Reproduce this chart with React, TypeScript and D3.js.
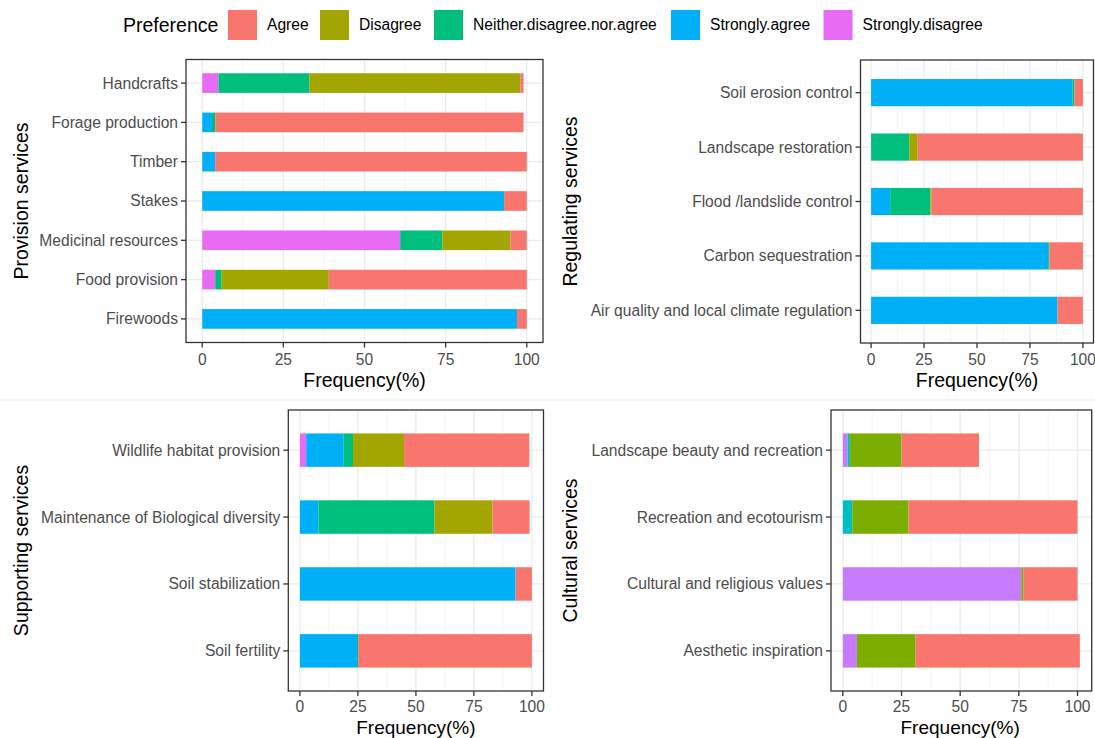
import React from "react";
import * as d3 from "d3";

// Response levels (factor order) and the shared five-level palette
const levels = ["Agree", "Disagree", "Neither.disagree.nor.agree", "Strongly.agree", "Strongly.disagree"];
const levelColors = ["#F8766D", "#A3A500", "#00BF7D", "#00B0F6", "#E76BF3"];
// Cultural services panel has only four levels, so it uses the four-level hue palette
const culturalLevels = ["Agree", "Disagree", "Strongly.agree", "Strongly.disagree"];
const culturalColors = ["#F8766D", "#7CAE00", "#00BFC4", "#C77CFF"];

const xTicks = [0, 25, 50, 75, 100];

// Provision services (listed bottom to top)
const provisionCats = ["Firewoods", "Food provision", "Medicinal resources", "Stakes", "Timber", "Forage production", "Handcrafts"];
const provisionAgree = [3, 61, 5, 7, 96, 95, 1];
const provisionDisagree = [0, 33, 21, 0, 0, 0, 65];
const provisionNeither = [0, 2, 13, 0, 0, 1, 28];
const provisionStronglyAgree = [97, 0, 0, 93, 4, 3, 0];
const provisionStronglyDisagree = [0, 4, 61, 0, 0, 0, 5];

// Regulating services
const regulatingCats = ["Air quality and local climate regulation", "Carbon sequestration", "Flood /landslide control", "Landscape restoration", "Soil erosion control"];
const regulatingAgree = [12, 15.8, 71.4, 78, 4];
const regulatingDisagree = [0, 0, 0.6, 4, 0];
const regulatingNeither = [0, 0.6, 19, 18, 1];
const regulatingStronglyAgree = [88, 83.6, 9, 0, 95];
const regulatingStronglyDisagree = [0, 0, 0, 0, 0];

// Supporting services
const supportingCats = ["Soil fertility", "Soil stabilization", "Maintenance of Biological diversity", "Wildlife habitat provision"];
const supportingAgree = [74.9, 7, 16, 54];
const supportingDisagree = [0, 0, 25, 22];
const supportingNeither = [0.5, 0, 50, 4];
const supportingStronglyAgree = [24.6, 93, 8, 16.2];
const supportingStronglyDisagree = [0, 0, 0, 2.7];

// Cultural services
const culturalCats = ["Aesthetic inspiration", "Cultural and religious values", "Recreation and ecotourism", "Landscape beauty and recreation"];
const culturalAgree = [70, 23, 72, 33];
const culturalDisagree = [25, 1, 24, 22];
const culturalStronglyAgree = [0, 0, 4, 1];
const culturalStronglyDisagree = [6, 76, 0, 2];

type Panel = {
  title: string;
  cats: string[];
  series: number[][];
  colors: string[];
  left: number;
  right: number;
  top: number;
  bottom: number;
  titleX: number;
  tickGap: number;
  xTitleBaseline: number;
  xTitleSize: number;
};

const FONT = "'Liberation Sans', Arial, sans-serif";
const TICK_SIZE = 15.6;
const TITLE_SIZE = 19.5;

const panels: Panel[] = [
  {
    title: "Provision services",
    cats: provisionCats,
    series: [provisionAgree, provisionDisagree, provisionNeither, provisionStronglyAgree, provisionStronglyDisagree],
    colors: levelColors,
    left: 186, right: 543, top: 59.5, bottom: 342.5, titleX: 21,
    tickGap: 17, xTitleBaseline: 386.5, xTitleSize: TITLE_SIZE,
  },
  {
    title: "Regulating services",
    cats: regulatingCats,
    series: [regulatingAgree, regulatingDisagree, regulatingNeither, regulatingStronglyAgree, regulatingStronglyDisagree],
    colors: levelColors,
    left: 860.5, right: 1093.5, top: 60, bottom: 343, titleX: 570,
    tickGap: 17, xTitleBaseline: 387, xTitleSize: TITLE_SIZE,
  },
  {
    title: "Supporting services",
    cats: supportingCats,
    series: [supportingAgree, supportingDisagree, supportingNeither, supportingStronglyAgree, supportingStronglyDisagree],
    colors: levelColors,
    left: 288.3, right: 543.5, top: 410, bottom: 691, titleX: 21,
    tickGap: 16, xTitleBaseline: 734, xTitleSize: 19,
  },
  {
    title: "Cultural services",
    cats: culturalCats,
    series: [culturalAgree, culturalDisagree, culturalStronglyAgree, culturalStronglyDisagree],
    colors: culturalColors,
    left: 831, right: 1091.7, top: 410, bottom: 691, titleX: 570,
    tickGap: 16, xTitleBaseline: 734, xTitleSize: 19,
  },
];

function PanelView({ p }: { p: Panel }) {
  const nSeries = p.series.length;
  // totals per category set the x-domain
  const totals = p.cats.map((_, i) => d3.sum(p.series, (s) => s[i]));
  const xMax = Math.max(100, d3.max(totals) || 100);
  const pad = xMax * 0.05;
  const x = d3.scaleLinear().domain([-pad, xMax + pad]).range([p.left, p.right]);
  const y = d3.scalePoint<string>().domain(p.cats).range([p.bottom, p.top]).padding(0.6);
  const step = y.step();
  const barH = step * 0.5;
  const minorTicks = d3.range(12.5, xMax + 0.001, 25);

  // stack: the last level sits at the left, the first level at the right
  const bars: React.ReactNode[] = [];
  p.cats.forEach((cat, i) => {
    let acc = 0;
    for (let k = nSeries - 1; k >= 0; k--) {
      const v = p.series[k][i];
      if (v > 0) {
        bars.push(
          <rect
            key={`${cat}-${k}`}
            x={x(acc)}
            width={x(acc + v) - x(acc)}
            y={(y(cat) as number) - barH / 2}
            height={barH}
            fill={p.colors[k]}
          />
        );
      }
      acc += v;
    }
  });

  const midY = (p.top + p.bottom) / 2;
  const midX = (x(0) + x(100)) / 2;

  return (
    <g>
      <rect x={p.left} y={p.top} width={p.right - p.left} height={p.bottom - p.top} fill="#fff" />
      {minorTicks.map((t) => (
        <line key={`mn${t}`} x1={x(t)} x2={x(t)} y1={p.top} y2={p.bottom} stroke="#f3f3f3" strokeWidth={0.8} />
      ))}
      {xTicks.map((t) => (
        <line key={`mj${t}`} x1={x(t)} x2={x(t)} y1={p.top} y2={p.bottom} stroke="#ebebeb" strokeWidth={1.3} />
      ))}
      {p.cats.map((c) => (
        <line key={`hy${c}`} x1={p.left} x2={p.right} y1={y(c)} y2={y(c)} stroke="#ebebeb" strokeWidth={1.3} />
      ))}
      {bars}
      <rect x={p.left} y={p.top} width={p.right - p.left} height={p.bottom - p.top} fill="none" stroke="#333" strokeWidth={1.3} />
      {/* y axis */}
      {p.cats.map((c) => (
        <g key={`yt${c}`}>
          <line x1={p.left - 5} x2={p.left} y1={y(c)} y2={y(c)} stroke="#333" strokeWidth={1.3} />
          <text x={p.left - 8} y={y(c)} dy="0.35em" textAnchor="end" fontSize={TICK_SIZE} fill="#4d4d4d" fontFamily={FONT}>
            {c}
          </text>
        </g>
      ))}
      {/* x axis */}
      {xTicks.map((t) => (
        <g key={`xt${t}`}>
          <line x1={x(t)} x2={x(t)} y1={p.bottom} y2={p.bottom + 5} stroke="#333" strokeWidth={1.3} />
          <text x={x(t)} y={p.bottom + p.tickGap} dy="0.35em" textAnchor="middle" fontSize={TICK_SIZE} fill="#4d4d4d" fontFamily={FONT}>
            {t}
          </text>
        </g>
      ))}
      <text x={midX} y={p.xTitleBaseline} textAnchor="middle" fontSize={p.xTitleSize} fill="#000" fontFamily={FONT}>
        Frequency(%)
      </text>
      <text
        transform={`translate(${p.titleX},${midY}) rotate(-90)`}
        dy="0.35em"
        textAnchor="middle"
        fontSize={TITLE_SIZE}
        fill="#000"
        fontFamily={FONT}
      >
        {p.title}
      </text>
    </g>
  );
}

// legend entries laid out left to right
const legendKeyX = [228, 320, 434, 671, 823.5];

function Legend() {
  return (
    <g fontFamily={FONT}>
      <text x={123} y={25} dy="0.35em" fontSize={TITLE_SIZE} fill="#000">
        Preference
      </text>
      {levels.map((lv, i) => (
        <g key={lv}>
          <rect x={legendKeyX[i]} y={10} width={29} height={30} fill={levelColors[i]} />
          <text x={legendKeyX[i] + 39} y={25} dy="0.35em" fontSize={TICK_SIZE} fill="#000">
            {lv}
          </text>
        </g>
      ))}
    </g>
  );
}

export default function App() {
  return (
    <svg
      width={1095}
      height={738}
      style={{ position: "absolute", left: 0, top: 0, background: "#fff" }}
    >
      <rect x={0} y={0} width={1095} height={738} fill="#fff" />
      <line x1={0} x2={1095} y1={400} y2={400} stroke="#f2f2f2" strokeWidth={1.5} />
      <Legend />
      {panels.map((p) => (
        <PanelView key={p.title} p={p} />
      ))}
    </svg>
  );
}
